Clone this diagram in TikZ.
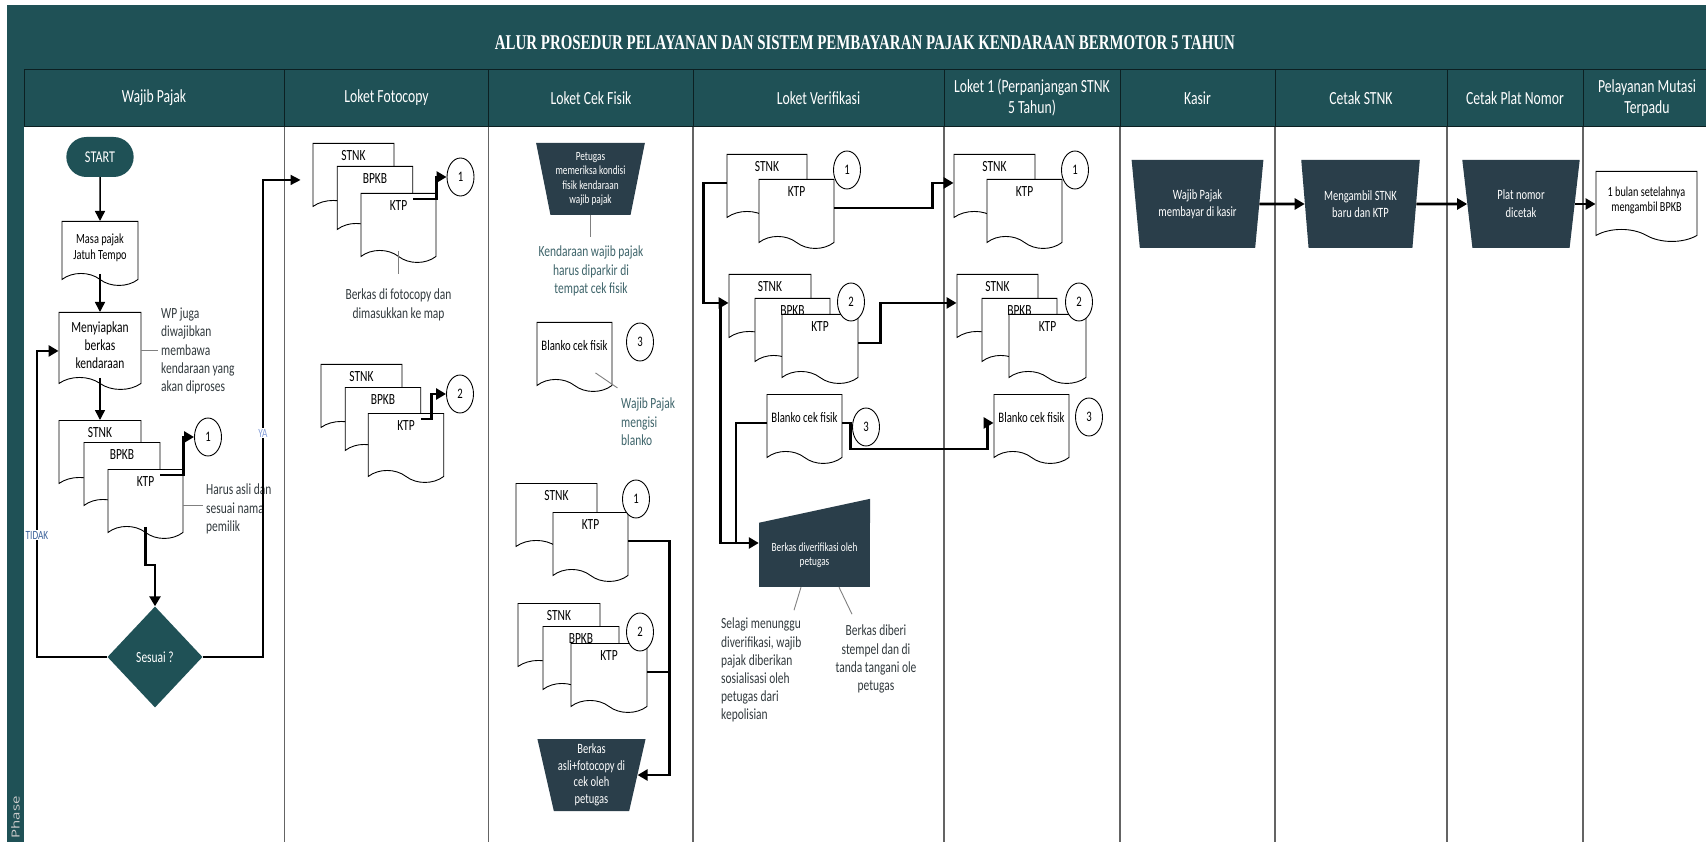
\documentclass[tikz,border=0pt]{standalone}
\usepackage{fontspec}
\setmainfont{Carlito}[FakeStretch=0.74]
\newfontfamily\judulfont{Liberation Serif}[FakeStretch=0.71]
\newfontfamily\phasefont{Open Sans}
\usetikzlibrary{shapes.geometric, shapes.symbols, shapes.misc, arrows.meta, calc}

\definecolor{hijautua}{RGB}{31,81,86}
\definecolor{prosesgelap}{RGB}{42,62,74}
\definecolor{catteal}{RGB}{62,100,106}
\definecolor{catabu}{RGB}{50,58,62}
\definecolor{garisjalur}{RGB}{100,100,100}

\newcommand{\fkepala}{\fontsize{18.5}{21}\selectfont}
\newcommand{\fdok}{\fontsize{14.5}{16.5}\selectfont}
\newcommand{\fcat}{\fontsize{15.5}{18.2}\selectfont}
\newcommand{\fkecil}{\fontsize{12.5}{14.3}\selectfont}
\newcommand{\fproses}{\fontsize{14.2}{16.5}\selectfont}
\newcommand{\fjudul}{\judulfont\bfseries\fontsize{21}{24}\selectfont}

\begin{document}
\begin{tikzpicture}[x=1pt, y=-1pt,
    jalur/.style={draw=garisjalur, line width=1.2pt},
    batas/.style={draw=black!60!hijautua, line width=1pt},
    kepala/.style={text=white, font=\fkepala, align=center},
    dok/.style={tape, tape bend top=none, tape bend bottom=out and in,
        tape bend height=12pt, draw, fill=white, line width=0.9pt,
        anchor=north, inner xsep=1pt, inner ysep=2pt, align=center, font=\fdok},
    tumpuk/.style={dok, minimum height=69pt, text height=5pt, text depth=28pt, font=\fcat},
    blanko/.style={dok, minimum width=75pt, minimum height=69pt, text height=8pt, text depth=8pt},
    lingkar/.style={ellipse, draw, fill=white, line width=0.9pt, minimum width=27pt,
        minimum height=38pt, inner sep=0pt, font=\fdok},
    manual/.style={trapezium, trapezium stretches=true, shape border rotate=180,
        fill=prosesgelap, text=white, align=center, inner sep=0pt},
    mulai/.style={rounded rectangle, fill=hijautua, text=white, minimum width=74pt,
        minimum height=40pt, font=\fontsize{16.5}{18}\selectfont},
    cabang/.style={diamond, fill=hijautua, text=white, minimum width=95pt,
        minimum height=101pt, inner sep=0pt, font=\fcat},
    catatan/.style={font=\fcat, text=catabu, inner sep=1pt},
    catgaris/.style={draw=black!50, line width=0.9pt},
    garis/.style={line width=2.6pt},
    tebal/.style={garis, -{Triangle[length=10pt, width=11pt]}},
    panah/.style={line width=1.5pt, -{Triangle[length=10pt, width=10pt]}},
    ket/.style={fill=white, inner sep=1pt, font=\fontsize{12.5}{14}\selectfont}
]
\useasboundingbox (0,0) rectangle (1706,842);
\fill[white] (0,0) rectangle (1706,842);

% bingkai, judul dan kepala jalur
\fill[hijautua] (7,5) rectangle (1706,127);
\fill[hijautua] (7,127) rectangle (24,842);
\draw[batas] (24,70) -- (1706,70);
\draw[batas] (24,127) -- (1706,127);
\draw[batas] (24,70) -- (24,127);
\foreach \x in {284.3, 488.7, 693, 944, 1120, 1275, 1447, 1583} {
    \draw[batas] (\x,70) -- (\x,127);
    \draw[jalur] (\x,127) -- (\x,842);
}
\node[text=white, font=\fjudul] (judul) at (865,43) {ALUR PROSEDUR PELAYANAN DAN SISTEM PEMBAYARAN PAJAK KENDARAAN BERMOTOR 5 TAHUN};
\node[rotate=90, anchor=east, inner sep=0pt, text=black!20!white,
    font=\phasefont\fontsize{15}{15}\selectfont] (fase) at (15.5,796) {\scalebox{1}[0.74]{Phase}};

\node[kepala] (hWP) at (154,98) {Wajib Pajak};
\node[kepala] (hFC) at (386.5,98) {Loket Fotocopy};
\node[kepala] (hCF) at (591,98) {Loket Cek Fisik};
\node[kepala] (hVer) at (818.5,98) {Loket Verifikasi};
\node[kepala] (hL1) at (1032,98) {Loket 1 (Perpanjangan STNK\\5 Tahun)};
\node[kepala] (hKas) at (1197.5,98) {Kasir};
\node[kepala] (hSTNK) at (1361,98) {Cetak STNK};
\node[kepala] (hPlat) at (1515,98) {Cetak Plat Nomor};
\node[kepala] (hMut) at (1647,98) {Pelayanan Mutasi\\Terpadu};

% Wajib Pajak
\node[mulai] (start) at (100,157) {START};
\node[dok, minimum width=76pt, minimum height=64pt, font=\fontsize{14}{16}\selectfont] (masa) at (100,221) {Masa pajak\\Jatuh Tempo};
\node[dok, minimum width=82pt, minimum height=77pt, font=\fcat] (siap) at (100,312) {Menyiapkan\\berkas\\kendaraan};
\node[tumpuk, minimum width=82pt] (wpS) at (100,420) {STNK};
\node[tumpuk, minimum width=76pt] (wpB) at (122,442) {BPKB};
\node[tumpuk, minimum width=75pt] (wpK) at (145.5,469) {KTP};
\node[lingkar] (wpC1) at (208,437) {1};
\node[cabang] (sesuai) at (155,657) {Sesuai ?};
\node[catatan, anchor=west, align=left] (wpNote) at (160,351) {WP juga\\diwajibkan\\membawa\\kendaraan yang\\akan diproses};
\node[catatan, anchor=west, align=left] (asli) at (205,509) {Harus asli dan\\sesuai nama\\pemilik};

% Loket Fotocopy
\node[tumpuk, minimum width=81pt] (fc1S) at (353.5,143) {STNK};
\node[tumpuk, minimum width=75.5pt] (fc1B) at (375,166) {BPKB};
\node[tumpuk, minimum width=75pt] (fc1K) at (398.5,193) {KTP};
\node[lingkar] (fcC1) at (460.5,177) {1};
\node[catatan, align=center, anchor=north] (fcNote) at (398.5,288) {Berkas di fotocopy dan\\dimasukkan ke map};
\node[tumpuk, minimum width=81pt] (fc2S) at (361.5,364) {STNK};
\node[tumpuk, minimum width=75.5pt] (fc2B) at (383,387) {BPKB};
\node[tumpuk, minimum width=75.5pt] (fc2K) at (406,413) {KTP};
\node[lingkar] (fcC2) at (460,394) {2};

% Loket Cek Fisik
\node[manual, minimum width=109pt, minimum height=72pt, trapezium left angle=76.7,
    trapezium right angle=76.7, font=\fkecil] (periksa) at (590.5,179) {Petugas\\memeriksa kondisi\\fisik kendaraan\\wajib pajak};
\node[catatan, text=catteal, align=center, anchor=north] (parkir) at (591,245) {Kendaraan wajib pajak\\harus diparkir di\\tempat cek fisik};
\node[blanko] (cfBl) at (574.5,322) {Blanko cek fisik};
\node[lingkar] (cfC3) at (640,342) {3};
\node[catatan, text=catteal, anchor=north west, align=left] (isi) at (620,397) {Wajib Pajak\\mengisi\\blanko};
\node[tumpuk, minimum width=81pt] (cf1S) at (556.5,483) {STNK};
\node[tumpuk, minimum width=75pt] (cf1K) at (590.5,512) {KTP};
\node[lingkar] (cfC1) at (636,499) {1};
\node[tumpuk, minimum width=82pt] (cf2S) at (559,603) {STNK};
\node[tumpuk, minimum width=76pt] (cf2B) at (581,626) {BPKB};
\node[tumpuk, minimum width=76pt] (cf2K) at (609,643) {KTP};
\node[lingkar] (cfC2) at (640,632) {2};
\node[manual, minimum width=109pt, minimum height=72pt, trapezium left angle=76.7,
    trapezium right angle=76.7, font=\fproses] (cekberkas) at (591.5,775) {Berkas\\asli+fotocopy di\\cek oleh\\petugas};

% Loket Verifikasi
\node[tumpuk, minimum width=80pt] (v1S) at (767,154) {STNK};
\node[tumpuk, minimum width=75pt] (v1K) at (796.5,179) {KTP};
\node[lingkar] (vC1) at (847,170) {1};
\node[tumpuk, minimum width=82pt] (v2S) at (770,274) {STNK};
\node[tumpuk, minimum width=75pt] (v2B) at (792.5,298) {BPKB};
\node[tumpuk, minimum width=76pt] (v2K) at (820,314) {KTP};
\node[lingkar] (vC2) at (851,302) {2};
\node[blanko] (vBl) at (804.5,394) {Blanko cek fisik};
\node[lingkar] (vC3) at (866,427) {3};
\node[fill=prosesgelap, text=white, align=center, font=\fkecil, minimum width=111pt,
    minimum height=64pt, inner sep=0pt] (verif) at (814.5,555) {Berkas diverifikasi oleh\\petugas};
\fill[prosesgelap] (verif.north west) -- (verif.north east) -- ++(0,-24) -- cycle;
\node[catatan, anchor=north west, align=left] (selagi) at (720,617) {Selagi menunggu\\diverifikasi, wajib\\pajak diberikan\\sosialisasi oleh\\petugas dari\\kepolisian};
\node[catatan, anchor=north, align=center] (stempel) at (876,624) {Berkas diberi\\stempel dan di\\tanda tangani ole\\petugas};

% Loket 1
\node[tumpuk, minimum width=81pt] (l1S) at (994.5,154) {STNK};
\node[tumpuk, minimum width=75pt] (l1K) at (1024.5,179) {KTP};
\node[lingkar] (lC1) at (1075,170) {1};
\node[tumpuk, minimum width=81pt] (l2S) at (997.5,274) {STNK};
\node[tumpuk, minimum width=75pt] (l2B) at (1019.5,298) {BPKB};
\node[tumpuk, minimum width=77pt] (l2K) at (1047.5,314) {KTP};
\node[lingkar] (lC2) at (1079,302) {2};
\node[blanko] (lBl) at (1031.5,394) {Blanko cek fisik};
\node[lingkar] (lC3) at (1089,417) {3};

% Kasir, Cetak STNK, Cetak Plat, Mutasi
\node[manual, minimum width=133pt, minimum height=88pt, trapezium left angle=79,
    trapezium right angle=79, font=\fproses] (bayar) at (1197.5,204) {Wajib Pajak\\membayar di kasir};
\node[manual, minimum width=119pt, minimum height=88pt, trapezium left angle=79,
    trapezium right angle=79, font=\fproses] (ambil) at (1360.5,204) {Mengambil STNK\\baru dan KTP};
\node[manual, minimum width=118pt, minimum height=88pt, trapezium left angle=80,
    trapezium right angle=80, font=\fontsize{14.2}{18}\selectfont] (plat) at (1521,204) {Plat nomor\\dicetak};
\node[dok, minimum width=101pt, minimum height=70pt, font=\fontsize{13.8}{15.5}\selectfont] (bpkb) at (1646.5,171) {1 bulan setelahnya\\mengambil BPKB};

% alur
\draw[panah] (start) -- (masa);
\draw[panah] (masa.south) -- (siap.north);
\draw[panah] (siap.south) -- (wpS.north);
\draw[tebal] ($(wpK.north east)+(-23,6)$) -- ($(wpK.north east)+(0,6)$) |- (wpC1.west);
\draw[tebal] (wpK.south) -- (145.5,565) -| (sesuai.north);
\draw[tebal] (sesuai.west) -- (37,657) |- ([yshift=-6pt]siap.west);
\draw[panah, shorten >=12pt] (sesuai.east) -- (263,657) |- ([yshift=-8pt]fc1S.west);
\node[ket, text=black!45!cyan!60!blue] (tidak) at (37,535) {TIDAK};
\node[ket, text=cyan!40!blue!50!white] (ya) at (263,433) {YA};
\draw[catgaris] ([yshift=-6pt]siap.east) -- ++(17,0);
\draw[catgaris] ([yshift=-7pt]wpK.east) -- ++(20,0);

\draw[tebal] ($(fc1K.north east)+(-23,6)$) -- ($(fc1K.north east)+(0,6)$) |- (fcC1.west);
\draw[tebal] ($(fc2K.north east)+(-23,6)$) -- ($(fc2K.north east)+(-13,6)$) |- (fcC2.west);
\draw[catgaris] (fc1K.south) -- ++(0,23);

\draw[catgaris] (periksa.south) -- ++(0,22);
\draw[catgaris] ($(cfBl.south east)+(-17,-7)$) -- ++(22,15);
\draw[tebal] (cf1K.east) -| ($(cekberkas.east)+(32,0)$) -- (cekberkas.east);
\draw[garis] (cf2K.east) -- ++(22,0);

\draw[tebal] (v1S.west) -- ++(-23,0) |- (v2S.west);
\draw[tebal] ($(v2S.west)+(-8,0)$) |- ([yshift=12pt]verif.west);
\draw[garis] (vBl.west) -| ($(verif.west)+(-23,-12)$);
\draw[tebal] (v1K.east) -- ++(98,0) |- (l1S.west);
\draw[tebal] (v2K.east) -- ++(22,0) |- (l2S.west);
\draw[tebal] (vBl.east) -- ++(8,0) -- ++(0,26) -| ($(lBl.west)+(-6,0)$) -- (lBl.west);
\draw[catgaris] ([xshift=-13.5pt]verif.south) -- ++(-7,23);
\draw[catgaris] ([xshift=24.5pt]verif.south) -- ++(13,27);

\draw[tebal] (bayar.east) -- (ambil.west);
\draw[tebal] (ambil.east) -- (plat.west);
\draw[tebal] (plat.east) -- (plat.east -| bpkb.west);
\end{tikzpicture}
\end{document}
